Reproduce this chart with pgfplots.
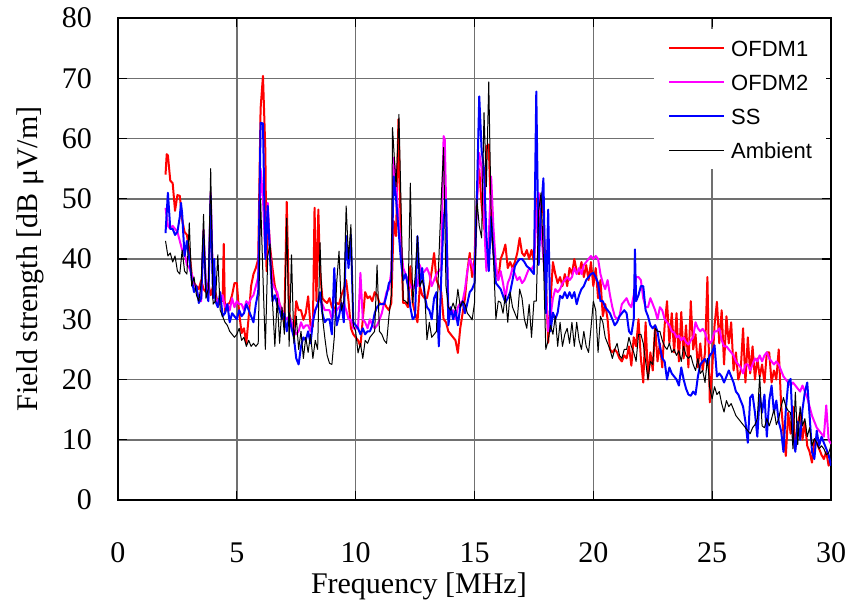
\documentclass[border=0pt]{standalone}
\usepackage{fontspec}
\setmainfont{Liberation Serif}
\newfontfamily\legfont{Liberation Sans}
\usepackage{pgfplots}
\pgfplotsset{compat=1.18}
\definecolor{gridgray}{RGB}{112,112,112}
\definecolor{cRed}{RGB}{255,0,0}
\definecolor{cMag}{RGB}{255,0,255}
\definecolor{cBlue}{RGB}{0,0,255}
\begin{document}
\begin{tikzpicture}
\useasboundingbox (-118pt,-106pt) rectangle (731pt,500pt);
\begin{axis}[
  at={(0pt,0pt)}, anchor=south west,
  scale only axis, width=713pt, height=482pt,
  xmin=0, xmax=30, ymin=0, ymax=80,
  xtick={0,5,...,30}, ytick={0,10,...,80},
  grid=major, major grid style={draw=gridgray, line width=1.5pt},
  axis line style={line width=2.2pt},
  tick align=inside, major tick length=9pt, tick style={black, line width=1.3pt},
  /pgf/number format/assume math mode=true,
  tick label style={font=\fontsize{30}{36}\selectfont},
  xticklabel style={anchor=base, inner sep=0pt, yshift=-62pt},
  yticklabel style={anchor=east, inner sep=0pt, xshift=-26pt},
  label style={font=\fontsize{30}{36}\selectfont},
  xlabel={Frequency [MHz]},
  ylabel={Field strength [dB μV/m]},
  xlabel style={at={(axis description cs:0.422,-0.195)}, anchor=base, inner sep=0pt},
  ylabel style={at={(axis description cs:-0.1129,0.5)}, anchor=base, inner sep=0pt},
  legend style={at={(axis description cs:0.7518,0.977)}, anchor=north west, draw=none, fill=white,
     font=\legfont\fontsize{22}{26}\selectfont, inner xsep=14pt, inner ysep=11pt,
     row sep=18pt, nodes={inner sep=0pt, text height=16pt, text depth=0pt},
     /tikz/every odd column/.append style={column sep=6pt}},
  legend cell align=left,
  legend image code/.code={\draw[#1] (0pt,0pt) -- (55pt,0pt);},
]
\addplot[cRed, line width=2pt, line join=round] table {
2.0 54.0
2.05 57.4
2.1 57.2
2.2 53.0
2.3 52.6
2.4 48.0
2.5 50.6
2.6 50.5
2.7 46.5
2.8 44.5
2.9 44.0
3.0 41.5
3.1 37.5
3.2 36.0
3.3 35.5
3.4 35.0
3.5 36.5
3.6 35.0
3.7 34.5
3.8 36.0
3.9 34.0
4.0 35.5
4.1 34.5
4.2 32.5
4.3 33.0
4.4 33.0
4.45 42.5
4.5 31.0
4.6 32.5
4.7 32.7
4.8 34.0
4.9 36.0
5.0 36.0
5.1 31.0
5.2 27.7
5.3 28.5
5.4 26.0
5.5 30.5
5.6 35.5
5.7 37.5
5.8 38.5
5.9 40.0
6.0 65.0
6.1 70.4
6.2 58.0
6.25 38.0
6.3 48.0
6.4 42.0
6.5 38.5
6.6 35.5
6.7 34.0
6.8 32.5
6.9 31.5
7.0 29.5
7.1 49.5
7.2 31.0
7.3 29.5
7.4 27.5
7.5 33.0
7.6 31.5
7.7 31.5
7.8 29.9
7.9 31.0
8.0 33.8
8.1 29.0
8.2 28.8
8.27 48.5
8.35 33.0
8.43 48.2
8.5 38.0
8.6 33.5
8.7 33.0
8.8 32.7
8.9 33.5
9.0 32.0
9.1 31.5
9.2 32.7
9.3 32.5
9.4 34.0
9.5 35.0
9.6 36.5
9.7 33.0
9.8 28.5
9.9 27.5
10.0 27.0
10.1 26.5
10.2 25.5
10.3 30.0
10.4 34.5
10.5 33.5
10.6 33.8
10.7 33.0
10.8 34.5
10.9 34.0
11.0 32.7
11.1 32.5
11.2 32.7
11.3 32.0
11.4 31.5
11.5 32.7
11.6 46.3
11.7 43.8
11.8 63.2
11.9 43.8
12.0 32.7
12.1 32.7
12.2 32.0
12.3 38.8
12.4 32.7
12.5 31.0
12.6 29.5
12.7 35.5
12.8 34.0
12.9 33.5
13.0 33.5
13.1 35.5
13.2 38.0
13.3 41.0
13.4 36.5
13.5 35.5
13.6 34.5
13.7 30.0
13.8 29.5
13.9 28.0
14.0 27.5
14.1 27.0
14.2 26.5
14.3 24.4
14.4 28.5
14.5 31.0
14.6 33.5
14.7 38.0
14.8 41.0
14.9 37.0
15.0 40.0
15.1 50.4
15.2 54.9
15.3 49.0
15.4 45.0
15.5 58.7
15.6 59.0
15.7 46.0
15.8 41.0
15.9 38.0
16.0 36.5
16.1 40.0
16.2 41.0
16.3 42.4
16.4 38.5
16.5 39.5
16.6 38.5
16.7 39.5
16.8 41.0
16.9 43.5
17.0 41.0
17.1 40.5
17.2 41.5
17.3 40.0
17.4 41.5
17.5 39.5
17.6 50.0
17.7 42.0
17.8 50.0
17.9 47.5
18.0 37.0
18.1 26.1
18.2 33.0
18.3 39.5
18.4 37.5
18.5 36.0
18.6 37.0
18.7 35.5
18.8 37.5
18.9 35.5
19.0 38.5
19.1 37.5
19.2 40.0
19.3 38.0
19.4 37.5
19.5 39.5
19.6 37.0
19.7 39.0
19.8 36.5
19.9 39.5
20.0 35.5
20.1 38.5
20.2 33.5
20.3 36.5
20.4 30.5
20.5 32.5
20.6 30.0
20.7 25.0
20.8 24.5
20.9 25.0
21.0 24.5
21.1 23.5
21.2 23.0
21.3 24.0
21.4 23.5
21.5 25.5
21.6 22.3
21.7 27.0
21.8 25.5
21.9 30.0
22.0 23.5
22.1 19.5
22.2 29.5
22.3 20.0
22.4 24.5
22.5 21.5
22.6 29.0
22.7 23.0
22.8 26.0
22.9 22.0
23.0 29.0
23.1 33.0
23.2 26.0
23.3 31.0
23.4 24.5
23.5 31.0
23.6 23.0
23.7 31.2
23.8 23.5
23.9 29.0
24.0 22.0
24.1 33.0
24.2 25.0
24.3 27.5
24.4 22.0
24.5 26.0
24.6 21.5
24.7 24.5
24.8 37.0
24.9 16.2
25.0 21.5
25.1 29.0
25.2 32.9
25.3 26.0
25.4 31.5
25.5 22.5
25.6 30.5
25.7 26.0
25.8 29.5
25.9 21.5
26.0 24.5
26.1 20.0
26.2 21.5
26.3 28.5
26.4 19.5
26.5 27.0
26.6 21.0
26.7 25.5
26.8 20.0
26.9 23.5
27.0 20.5
27.1 22.5
27.2 19.5
27.3 24.5
27.4 24.5
27.5 19.5
27.6 21.5
27.7 20.0
27.8 25.0
27.9 16.0
28.0 11.0
28.1 7.3
28.2 14.5
28.3 11.0
28.4 15.5
28.5 8.5
28.6 12.5
28.7 14.5
28.8 10.0
28.9 13.0
29.0 9.0
29.1 8.0
29.2 6.2
29.3 10.0
29.4 9.5
29.5 8.5
29.6 7.5
29.7 6.8
29.8 8.0
29.9 5.7
30.0 6.5
};
\addlegendentry{OFDM1}
\addplot[cMag, line width=2pt, line join=round] table {
2.0 48.5
2.1 45.5
2.2 45.0
2.3 45.5
2.4 45.0
2.5 44.5
2.6 43.0
2.7 41.5
2.8 41.0
2.9 39.0
3.0 38.5
3.1 37.5
3.2 36.0
3.3 35.0
3.4 33.5
3.5 33.0
3.6 44.9
3.7 35.5
3.8 33.5
3.9 51.0
4.0 35.5
4.1 33.5
4.2 33.0
4.3 32.5
4.4 34.0
4.5 32.0
4.6 32.5
4.7 31.5
4.8 33.5
4.9 32.0
5.0 33.0
5.1 32.5
5.2 32.5
5.3 31.5
5.4 33.0
5.5 32.5
5.6 33.5
5.7 34.0
5.8 35.5
5.9 37.0
6.0 55.0
6.1 50.0
6.2 40.5
6.3 49.3
6.4 41.0
6.5 36.0
6.6 35.0
6.7 34.5
6.8 32.5
6.9 31.5
7.0 30.5
7.1 30.0
7.2 30.5
7.3 29.5
7.4 28.5
7.5 27.5
7.6 28.0
7.7 29.5
7.8 28.5
7.9 29.0
8.0 29.0
8.1 28.0
8.2 30.0
8.3 31.5
8.4 32.5
8.5 33.5
8.6 32.5
8.7 31.5
8.8 31.5
8.9 31.5
9.0 30.0
9.1 31.5
9.2 31.5
9.3 32.0
9.4 32.5
9.5 32.7
9.6 31.5
9.7 30.0
9.8 29.9
9.9 28.5
10.0 28.5
10.1 28.5
10.2 37.7
10.3 30.0
10.4 29.5
10.5 28.5
10.6 30.0
10.7 29.0
10.8 28.5
10.9 29.0
11.0 29.9
11.1 31.0
11.2 32.7
11.3 34.5
11.4 35.0
11.5 38.0
11.6 56.8
11.7 53.0
11.8 46.5
11.9 42.5
12.0 38.5
12.1 37.5
12.2 36.5
12.3 35.5
12.4 35.0
12.5 36.0
12.6 35.5
12.7 39.0
12.8 37.5
12.9 38.0
13.0 38.5
13.1 37.5
13.2 35.5
13.3 36.5
13.4 37.5
13.5 38.0
13.6 38.5
13.7 60.4
13.75 59.8
13.8 50.1
13.9 32.0
14.0 31.0
14.1 31.5
14.2 30.0
14.3 32.0
14.4 32.7
14.5 33.0
14.6 35.0
14.7 38.0
14.8 40.0
14.9 39.0
15.0 37.5
15.1 48.5
15.2 57.6
15.3 55.0
15.4 46.5
15.5 38.0
15.6 43.5
15.7 53.7
15.8 45.0
15.9 39.0
16.0 36.5
16.1 38.0
16.2 36.0
16.3 33.5
16.4 36.0
16.5 37.0
16.6 38.5
16.7 37.5
16.8 36.5
16.9 37.0
17.0 36.0
17.1 36.5
17.2 37.5
17.3 38.5
17.4 38.3
17.5 39.0
17.6 47.0
17.7 51.0
17.8 45.0
17.9 40.0
18.0 35.0
18.1 28.0
18.2 30.5
18.3 33.5
18.4 35.0
18.5 34.5
18.6 35.0
18.7 36.0
18.8 36.5
18.9 37.0
19.0 36.5
19.1 37.0
19.2 38.5
19.3 37.5
19.4 38.5
19.5 37.5
19.6 39.0
19.7 39.5
19.8 40.0
19.9 40.5
20.0 40.0
20.1 40.5
20.2 40.0
20.3 37.5
20.4 36.0
20.5 35.0
20.6 36.5
20.7 34.0
20.8 32.0
20.9 30.5
21.0 30.0
21.1 30.5
21.2 32.5
21.3 33.0
21.4 33.5
21.5 32.5
21.6 32.0
21.7 34.0
21.8 37.0
21.9 37.0
22.0 36.5
22.1 33.5
22.2 32.0
22.3 32.0
22.4 33.5
22.5 32.5
22.6 31.5
22.7 30.0
22.8 32.0
22.9 31.5
23.0 30.0
23.1 29.5
23.2 29.0
23.3 28.0
23.4 27.8
23.5 27.0
23.6 27.3
23.7 26.5
23.8 27.0
23.9 26.2
24.0 25.8
24.1 26.5
24.2 27.0
24.3 29.5
24.4 28.5
24.5 28.0
24.6 28.4
24.7 27.8
24.8 26.5
24.9 26.0
25.0 26.5
25.1 28.0
25.2 28.0
25.3 28.5
25.4 26.5
25.5 25.5
25.6 25.5
25.7 25.0
25.8 24.5
25.9 24.0
26.0 23.0
26.1 22.5
26.2 22.0
26.3 21.0
26.4 22.5
26.5 22.5
26.6 21.5
26.7 22.5
26.8 23.5
26.9 23.0
27.0 24.0
27.1 23.0
27.2 24.0
27.3 24.5
27.4 23.5
27.5 23.0
27.6 22.5
27.7 23.0
27.8 22.5
27.9 21.5
28.0 20.5
28.1 20.0
28.2 19.5
28.3 19.0
28.4 19.5
28.5 19.0
28.6 18.5
28.7 18.0
28.8 19.0
28.9 18.0
29.0 17.0
29.1 15.5
29.2 14.0
29.3 13.0
29.4 12.0
29.5 11.5
29.6 11.0
29.7 10.5
29.8 15.7
29.9 10.0
30.0 9.3
};
\addlegendentry{OFDM2}
\addplot[cBlue, line width=2pt, line join=round] table {
2.0 44.3
2.1 51.0
2.2 45.0
2.3 45.0
2.4 44.0
2.5 44.5
2.6 47.0
2.65 49.3
2.7 47.5
2.8 40.5
2.9 43.0
3.0 40.0
3.1 36.6
3.2 34.5
3.3 35.5
3.4 32.7
3.5 33.5
3.6 44.0
3.7 35.0
3.8 33.0
3.9 50.5
4.0 33.5
4.05 40.0
4.1 33.0
4.2 32.0
4.3 34.5
4.4 30.5
4.5 31.0
4.6 32.5
4.7 29.5
4.8 31.0
4.9 30.5
5.0 30.0
5.1 31.5
5.2 30.5
5.3 31.0
5.4 32.5
5.5 31.5
5.6 30.5
5.7 29.5
5.8 32.5
5.9 34.5
6.0 62.6
6.1 62.5
6.2 40.0
6.3 48.8
6.4 40.0
6.5 33.0
6.6 34.0
6.7 32.5
6.8 31.5
6.9 30.0
7.0 31.0
7.1 28.0
7.2 30.5
7.3 28.5
7.4 27.0
7.5 23.5
7.6 22.5
7.7 25.5
7.8 27.0
7.9 26.5
8.0 28.0
8.1 26.0
8.2 29.5
8.3 31.5
8.4 32.5
8.5 34.5
8.6 31.0
8.7 29.5
8.8 30.0
8.9 30.0
9.0 27.5
9.1 38.5
9.2 29.0
9.3 30.5
9.4 32.7
9.5 29.5
9.6 43.8
9.7 38.5
9.8 44.0
9.9 29.5
10.0 29.0
10.1 28.5
10.2 27.5
10.3 28.5
10.4 27.5
10.5 28.0
10.6 28.0
10.7 29.0
10.8 31.0
10.9 32.0
11.0 32.5
11.1 32.5
11.2 32.5
11.3 34.0
11.4 36.0
11.5 36.5
11.6 53.7
11.7 50.0
11.8 45.0
11.9 40.0
12.0 36.5
12.1 37.5
12.2 35.5
12.3 32.0
12.4 30.0
12.5 30.5
12.6 43.8
12.7 35.5
12.8 38.5
12.9 34.0
13.0 32.0
13.1 31.5
13.2 30.0
13.3 33.5
13.4 34.5
13.5 25.5
13.6 37.0
13.7 46.5
13.8 49.9
13.9 29.0
14.0 32.0
14.1 30.0
14.2 31.5
14.3 29.0
14.4 32.0
14.5 33.0
14.6 31.0
14.7 32.7
14.8 34.5
14.9 35.0
15.0 36.0
15.1 50.4
15.2 67.0
15.3 58.0
15.4 54.9
15.5 43.8
15.6 38.0
15.7 47.0
15.8 41.0
15.9 36.0
16.0 35.5
16.1 35.0
16.2 33.9
16.3 32.8
16.4 33.5
16.5 34.5
16.6 36.5
16.7 38.8
16.8 39.5
16.9 40.0
17.0 40.0
17.1 39.5
17.2 38.8
17.3 38.5
17.4 38.0
17.5 37.5
17.6 67.8
17.7 39.0
17.8 48.0
17.9 53.4
18.0 31.0
18.1 48.2
18.2 28.0
18.3 31.1
18.4 30.0
18.5 31.1
18.6 33.9
18.7 33.5
18.8 34.5
18.9 33.5
19.0 34.5
19.1 33.5
19.2 34.5
19.3 32.5
19.4 34.0
19.5 35.0
19.6 35.5
19.7 36.5
19.8 37.0
19.9 37.5
20.0 37.7
20.1 37.0
20.2 36.0
20.3 33.0
20.4 33.0
20.5 32.0
20.6 31.5
20.7 31.0
20.8 30.0
20.9 29.0
21.0 29.5
21.1 30.5
21.2 31.0
21.3 31.5
21.4 31.0
21.5 28.0
21.6 27.5
21.7 30.0
21.75 41.6
21.8 33.0
21.9 34.0
22.0 35.5
22.1 35.5
22.2 31.5
22.3 30.5
22.4 29.0
22.5 28.5
22.6 29.0
22.7 28.0
22.8 25.5
22.9 23.5
23.0 23.0
23.1 20.0
23.2 22.0
23.3 21.0
23.4 20.5
23.5 20.0
23.6 19.0
23.7 22.0
23.8 20.0
23.9 18.5
24.0 17.5
24.1 17.3
24.2 18.0
24.3 17.5
24.4 20.5
24.5 22.5
24.6 23.0
24.7 23.4
24.8 22.5
24.9 24.0
25.0 24.5
25.1 25.7
25.2 20.5
25.3 21.0
25.4 20.5
25.5 19.5
25.6 20.5
25.7 21.5
25.8 20.5
25.9 19.5
26.0 18.0
26.1 17.5
26.2 16.5
26.3 15.5
26.4 13.0
26.5 9.5
26.6 17.0
26.7 17.5
26.8 14.5
26.9 10.5
27.0 17.5
27.1 14.5
27.2 17.5
27.3 10.5
27.4 16.5
27.5 19.0
27.6 14.5
27.7 16.5
27.8 13.0
27.9 11.5
28.0 8.0
28.1 15.0
28.2 19.5
28.3 20.1
28.4 11.0
28.5 8.0
28.6 13.0
28.7 10.0
28.8 15.0
28.9 17.9
29.0 19.5
29.1 14.0
29.2 8.0
29.3 6.8
29.4 11.5
29.5 9.0
29.6 10.5
29.7 9.5
29.8 8.5
29.9 7.5
30.0 5.7
};
\addlegendentry{SS}
\addplot[black, line width=1pt, line join=round] table {
2.0 43.0
2.1 40.5
2.2 41.0
2.3 39.5
2.4 40.5
2.5 38.0
2.6 37.5
2.7 41.5
2.8 38.0
2.9 37.5
3.0 46.0
3.1 35.5
3.2 37.0
3.3 34.0
3.4 33.0
3.5 36.0
3.6 47.4
3.7 33.5
3.8 35.0
3.9 55.0
4.0 32.5
4.1 33.0
4.2 40.7
4.3 31.5
4.4 30.5
4.5 29.5
4.6 29.0
4.7 28.0
4.8 27.5
4.9 27.0
5.0 27.5
5.1 28.5
5.2 26.5
5.3 27.0
5.4 25.5
5.5 26.5
5.6 25.5
5.7 26.0
5.8 25.5
5.9 26.0
6.0 50.0
6.1 37.0
6.2 25.0
6.3 40.5
6.4 42.5
6.5 33.0
6.6 25.5
6.7 33.5
6.8 26.0
6.9 32.0
7.0 27.5
7.1 46.8
7.2 25.5
7.3 40.7
7.4 26.0
7.5 30.5
7.6 25.0
7.7 28.0
7.8 23.5
7.9 27.0
8.0 24.5
8.1 27.5
8.2 23.5
8.3 26.5
8.4 25.0
8.5 42.7
8.6 30.5
8.7 27.0
8.8 24.0
8.9 22.7
9.0 22.5
9.1 27.0
9.2 36.0
9.3 41.3
9.4 31.5
9.5 33.0
9.6 48.8
9.7 40.0
9.8 45.7
9.9 29.0
10.0 28.0
10.1 24.4
10.2 26.0
10.3 23.5
10.4 26.5
10.5 26.0
10.6 27.0
10.7 27.5
10.8 28.0
10.9 39.0
11.0 28.0
11.1 27.5
11.2 26.5
11.3 26.0
11.4 30.5
11.5 34.0
11.55 61.8
11.7 52.0
11.82 64.0
11.9 50.5
12.0 33.2
12.1 33.0
12.2 32.5
12.3 52.6
12.4 32.7
12.5 37.0
12.6 43.8
12.7 35.5
12.8 36.5
12.9 35.0
13.0 26.6
13.1 29.5
13.2 27.0
13.3 27.5
13.4 28.0
13.5 40.0
13.6 50.0
13.7 58.5
13.8 35.5
13.9 32.0
14.0 31.5
14.1 32.7
14.2 31.5
14.3 35.0
14.4 32.0
14.5 33.0
14.6 32.5
14.7 31.0
14.8 30.5
14.9 29.9
15.0 32.7
15.1 49.9
15.2 45.5
15.3 43.5
15.4 64.3
15.5 52.0
15.6 69.4
15.7 47.0
15.8 40.0
15.9 30.0
16.0 33.0
16.1 32.8
16.2 31.0
16.3 34.0
16.4 29.5
16.5 34.5
16.6 32.0
16.7 31.0
16.8 30.0
16.9 35.0
17.0 33.5
17.1 30.0
17.2 28.5
17.3 32.5
17.4 27.0
17.5 33.0
17.6 33.0
17.7 48.0
17.8 51.0
17.9 40.0
18.0 25.0
18.1 26.5
18.2 29.0
18.3 27.5
18.4 30.5
18.5 25.5
18.6 29.5
18.7 25.5
18.8 27.5
18.9 28.5
19.0 26.0
19.1 29.5
19.2 25.5
19.3 29.5
19.4 26.5
19.5 25.0
19.6 28.0
19.7 25.5
19.8 24.5
19.9 28.5
20.0 33.0
20.1 31.5
20.2 24.5
20.3 30.5
20.4 29.5
20.5 27.0
20.6 26.0
20.7 25.0
20.8 23.5
20.9 25.0
21.0 26.0
21.1 24.0
21.2 23.5
21.3 25.0
21.4 25.0
21.5 27.0
21.6 25.5
21.7 24.5
21.8 23.0
21.9 27.5
22.0 27.5
22.1 26.0
22.2 23.0
22.3 20.0
22.4 23.0
22.5 22.5
22.6 28.5
22.7 28.0
22.8 28.0
22.9 26.5
23.0 25.5
23.1 25.0
23.2 26.0
23.3 24.5
23.4 25.0
23.5 24.0
23.6 24.8
23.7 23.0
23.8 25.5
23.9 24.0
24.0 23.5
24.1 24.0
24.2 22.5
24.3 21.5
24.4 23.5
24.5 21.0
24.6 21.5
24.7 19.5
24.8 23.5
24.9 18.5
25.0 16.8
25.1 18.8
25.2 17.5
25.3 18.0
25.4 16.0
25.5 14.6
25.6 16.5
25.7 15.5
25.8 16.0
25.9 15.0
26.0 14.0
26.1 13.5
26.2 13.0
26.3 12.5
26.4 12.0
26.5 11.5
26.6 11.0
26.7 12.0
26.8 12.5
26.9 13.5
27.0 20.7
27.1 12.3
27.2 12.0
27.3 13.5
27.4 12.3
27.5 13.5
27.6 15.0
27.7 12.5
27.8 13.5
27.9 15.5
28.0 17.0
28.1 15.5
28.2 14.8
28.3 14.5
28.4 8.5
28.5 17.9
28.6 9.2
28.7 15.5
28.8 12.3
28.9 13.5
29.0 10.5
29.1 12.0
29.2 9.0
29.3 10.2
29.4 9.5
29.5 8.5
29.6 9.0
29.7 8.5
29.8 7.5
29.9 7.8
30.0 9.0
};
\addlegendentry{Ambient}
\end{axis}
\end{tikzpicture}
\end{document}
